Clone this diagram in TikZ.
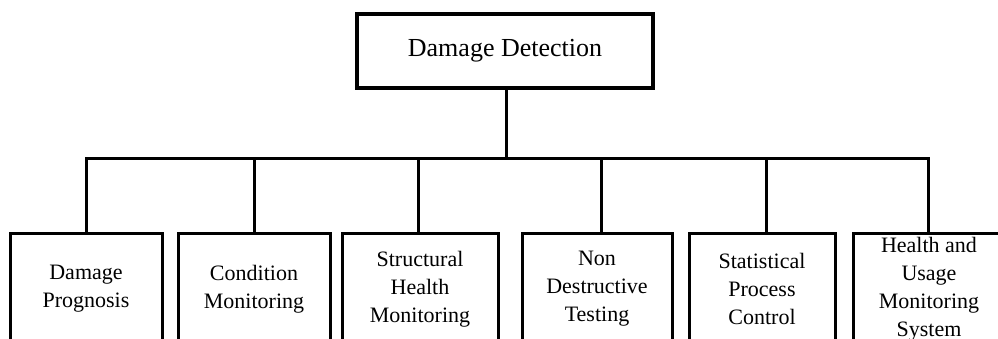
\documentclass[tikz,border=0pt]{standalone}
\usepackage{fontspec}
\setmainfont{Liberation Serif}
\begin{document}
\begin{tikzpicture}[x=1pt,y=-1pt,
  rootbox/.style={draw=black,line width=3.6pt,fill=white,minimum width=296pt,
    minimum height=74pt,inner sep=0pt,font=\fontsize{26}{30}\selectfont},
  leafbox/.style={draw=black,line width=3pt,fill=white,minimum height=112pt,
    inner sep=0pt,align=center,font=\fontsize{22}{28}\selectfont},
  link/.style={line width=3pt}]
\useasboundingbox (0,0) rectangle (998,338);
\clip (0,0) rectangle (998,338);

% root
\node[rootbox] (root) at (505,51) {Damage Detection};

% branches
\node[leafbox,minimum width=152pt] (dp)  at (86,289)  {Damage\\Prognosis};
\node[leafbox,minimum width=152pt] (cm)  at (254,289) {Condition\\Monitoring};
\node[leafbox,minimum width=156pt] (shm) at (420,289) {Structural\\Health\\Monitoring};
\node[leafbox,minimum width=150pt] (ndt) at (597,289) {Non\\Destructive\\Testing};
\node[leafbox,minimum width=146pt] (spc) at (762,289) {Statistical\\Process\\Control};
\node[leafbox,minimum width=152pt] (hum) at (929,289) {Health and\\Usage\\Monitoring\\System};

% bus
\coordinate (bus) at (506,158);
\coordinate (busl) at (86,158);
\coordinate (busr) at (928,158);
\draw[link] (root.south -| bus) -- (bus);
\draw[link] (dp.north -| busl) -- (busl) -- (busr) -- (hum.north -| busr);
\draw[link] (254,158) -- (cm.north -| 254,0);
\draw[link] (418,158) -- (shm.north -| 418,0);
\draw[link] (601,158) -- (ndt.north -| 601,0);
\draw[link] (766,158) -- (spc.north -| 766,0);
\end{tikzpicture}
\end{document}
